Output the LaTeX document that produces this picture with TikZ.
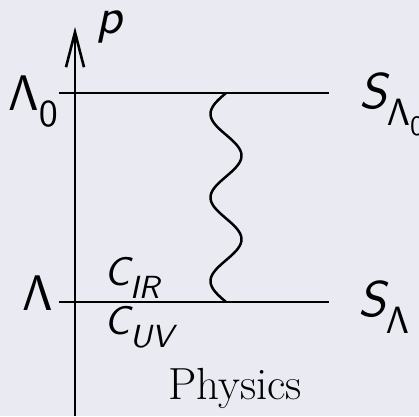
\documentclass[tikz,border=0pt]{standalone}
\usetikzlibrary{arrows.meta}
\DeclareFontFamily{OT1}{mysf}{}
\DeclareFontShape{OT1}{mysf}{m}{n}{<-> cmss10}{}
\DeclareFontShape{OT1}{mysf}{m}{sl}{<-> cmssi10}{}
\DeclareSymbolFont{sfup}{OT1}{mysf}{m}{n}
\DeclareMathSymbol{\SLambda}{\mathalpha}{sfup}{"03}
\DeclareMathAlphabet{\mathsfit}{OT1}{mysf}{m}{sl}
\DeclareMathAlphabet{\mathsfup}{OT1}{mysf}{m}{n}
\DeclareMathSizes{50}{50}{38}{28}
\DeclareMathSizes{40}{40}{32}{24}
\definecolor{bgcol}{RGB}{234,234,242}
\tikzset{
  lbl/.style={inner sep=0pt, anchor=base west, font=\fontsize{50}{60}\selectfont},
  smalllbl/.style={lbl, font=\fontsize{40}{48}\selectfont},
  physlbl/.style={lbl, font=\fontsize{45}{54}\selectfont},
  axisline/.style={line width=2.6pt, -{Straight Barb[length=35pt,width=18pt]}},
  scaleline/.style={line width=2.6pt},
  waveline/.style={line width=2.5pt}
}
\begin{document}
\begin{tikzpicture}[x=1pt,y=-1pt]
\fill[bgcol] (0,0) rectangle (419,416);
\useasboundingbox (0,0) rectangle (419,416);
% axis
\coordinate (axb) at (75,416);
\coordinate (axt) at (75,27);
\draw[axisline] (axb) -- (axt);
% scale lines
\coordinate (u0) at (59,93);
\coordinate (u1) at (329,93);
\coordinate (l0) at (59,302);
\coordinate (l1) at (329,302);
\draw[scaleline] (u0) -- (u1);
\draw[scaleline] (l0) -- (l1);
% wave
\coordinate (wt) at (226,93);
\coordinate (wb) at (226,302);
\draw[waveline, shift={(wt)}] plot[domain=0:209, samples=160, smooth] ({-15.5*sin(\x*4.30622)}, \x);
% labels
\node[lbl] (p) at (96,33) {$\mathsfit{p}$};
\node[lbl] (L0) at (8,110) {$\SLambda_{\mathsfup{0}}$};
\node[lbl] (L) at (22,310) {$\SLambda$};
\node[lbl] (S0) at (359,108) {$\mathsfit{S}_{\SLambda_{\mathsfup{0}}}$};
\node[lbl] (S) at (358,316) {$\mathsfit{S}_{\SLambda}$};
\node[smalllbl] (CIR) at (104,285) {$\mathsfit{C}_{\mathsfit{IR}}$};
\node[smalllbl] (CUV) at (104,334) {$\mathsfit{C}_{\mathsfit{UV}}$};
\node[physlbl] (phys) at (168,399) {Physics};
\end{tikzpicture}
\end{document}
